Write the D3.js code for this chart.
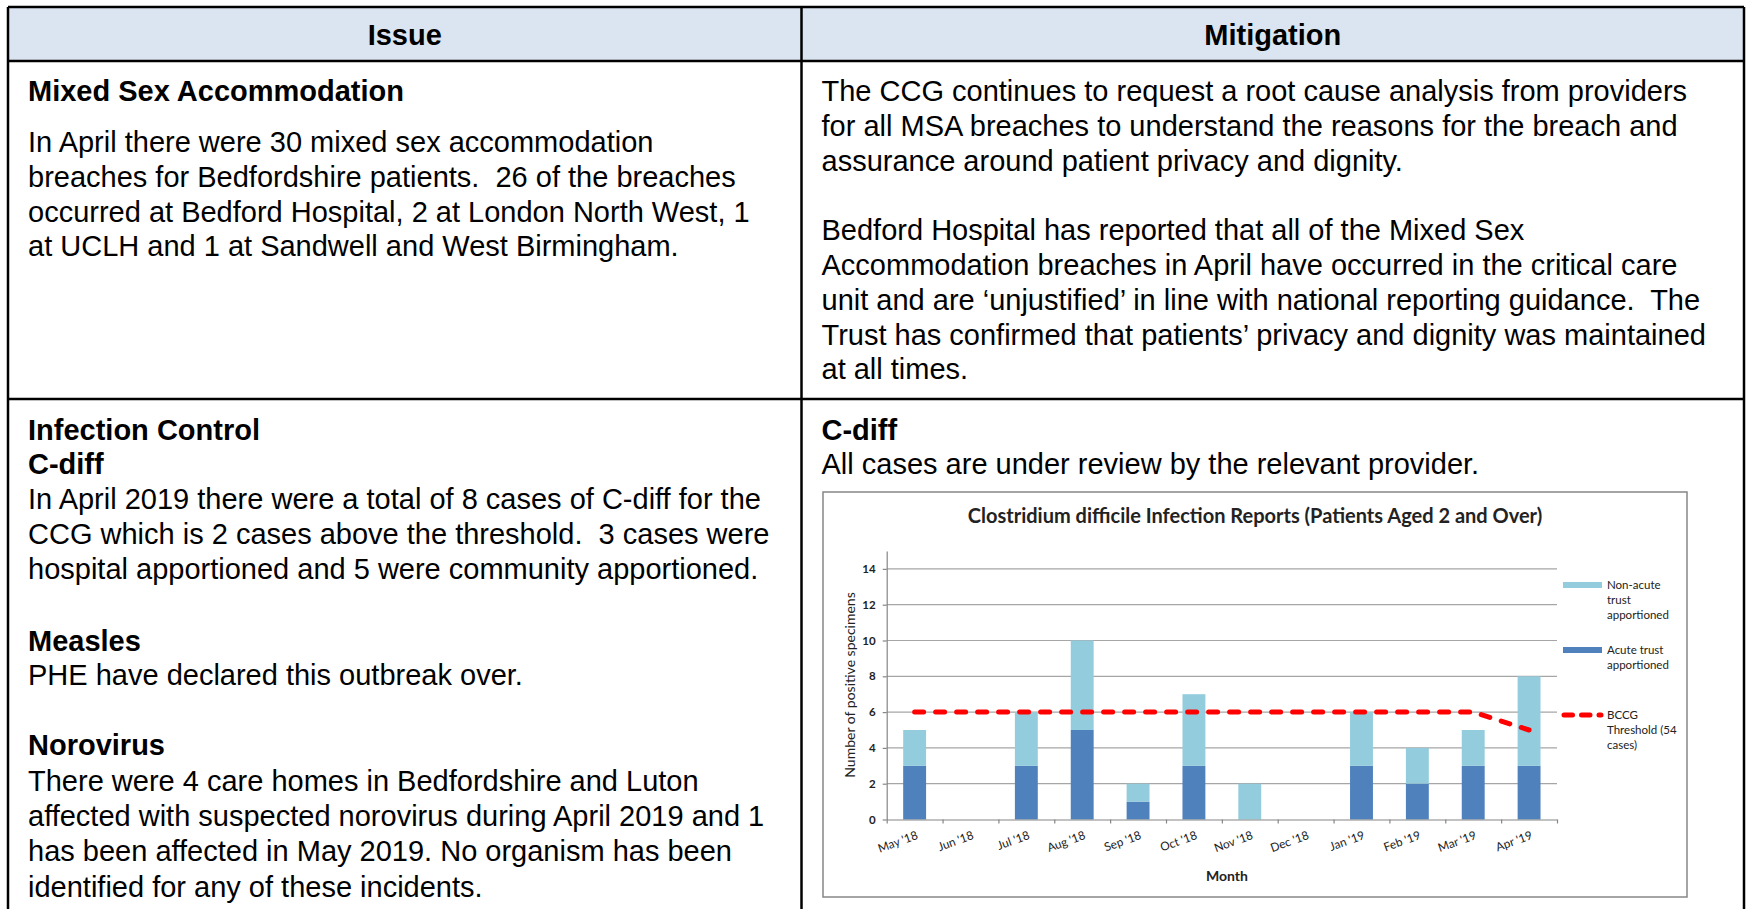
<!DOCTYPE html>
<html>
<head>
<meta charset="utf-8">
<script src="https://cdn.jsdelivr.net/npm/d3@7"></script>
<style>
  body { margin: 0; background: #fff; }
  svg { display: block; }
  .doc { font-family: "Liberation Sans", Arial, sans-serif; font-size: 29px; fill: #000; }
  .chart text { font-family: Lato, "Open Sans", sans-serif; fill: #222; }
</style>
</head>
<body>
<script>
// chart data
const months = ["May '18", "Jun '18", "Jul '18", "Aug '18", "Sep '18", "Oct '18",
                "Nov '18", "Dec '18", "Jan '19", "Feb '19", "Mar '19", "Apr '19"];
const acute    = [3, 0, 3, 5, 1, 3, 0, 0, 3, 2, 3, 3];
const nonAcute = [2, 0, 3, 5, 1, 4, 2, 0, 3, 2, 2, 5];
const threshold = [6, 6, 6, 6, 6, 6, 6, 6, 6, 6, 6, 5];
const yTicks = [0, 2, 4, 6, 8, 10, 12, 14];

// document text, line by line as wrapped in the page
const row1Left = [
  ["b", "Mixed Sex Accommodation", 100.5],
  ["", "In April there were 30 mixed sex accommodation", 152],
  ["", "breaches for Bedfordshire patients.\u00a0 26 of the breaches", 186.8],
  ["", "occurred at Bedford Hospital, 2 at London North West, 1", 221.6],
  ["", "at UCLH and 1 at Sandwell and West Birmingham.", 256.4]
];
const row1Right = [
  "The CCG continues to request a root cause analysis from providers",
  "for all MSA breaches to understand the reasons for the breach and",
  "assurance around patient privacy and dignity.",
  "",
  "Bedford Hospital has reported that all of the Mixed Sex",
  "Accommodation breaches in April have occurred in the critical care",
  "unit and are \u2018unjustified\u2019 in line with national reporting guidance.\u00a0 The",
  "Trust has confirmed that patients\u2019 privacy and dignity was maintained",
  "at all times."
];
const row2Left = [
  ["b", "Infection Control", 439.5],
  ["b", "C-diff", 473.5],
  ["", "In April 2019 there were a total of 8 cases of C-diff for the", 509],
  ["", "CCG which is 2 cases above the threshold.\u00a0 3 cases were", 543.5],
  ["", "hospital apportioned and 5 were community apportioned.", 579],
  ["b", "Measles", 650.5],
  ["", "PHE have declared this outbreak over.", 685],
  ["b", "Norovirus", 755],
  ["", "There were 4 care homes in Bedfordshire and Luton", 791],
  ["", "affected with suspected norovirus during April 2019 and 1", 825.5],
  ["", "has been affected in May 2019. No organism has been", 861],
  ["", "identified for any of these incidents.", 896.5]
];
const row2Right = [
  ["b", "C-diff", 439.5],
  ["", "All cases are under review by the relevant provider.", 473.5]
];

const W = 1748, H = 909;
const svg = d3.select("body").append("svg").attr("width", W).attr("height", H);

// ---- table ----
const tL = 8, tR = 1744, tT = 7, hB = 61, rB = 399, colX = 801.5;
svg.append("rect").attr("x", tL).attr("y", tT).attr("width", tR - tL).attr("height", hB - tT)
  .attr("fill", "#dbe5f1");
const border = svg.append("g").attr("stroke", "#000").attr("stroke-width", 2.5);
[[tL, tT, tR, tT], [tL, hB, tR, hB], [tL, rB, tR, rB],
 [tL, tT, tL, H], [colX, tT, colX, H], [tR, tT, tR, H]].forEach(l => {
  border.append("line").attr("x1", l[0]).attr("y1", l[1]).attr("x2", l[2]).attr("y2", l[3]);
});

const doc = svg.append("g").attr("class", "doc");
doc.append("text").attr("x", (tL + colX) / 2).attr("y", 45).attr("text-anchor", "middle")
  .attr("font-weight", "bold").text("Issue");
doc.append("text").attr("x", (colX + tR) / 2).attr("y", 45).attr("text-anchor", "middle")
  .attr("font-weight", "bold").text("Mitigation");

function lines(arr, x) {
  arr.forEach(d => {
    doc.append("text").attr("x", x).attr("y", d[2])
      .attr("font-weight", d[0] == "b" ? "bold" : null).text(d[1]);
  });
}
lines(row1Left, 28);
lines(row2Left, 28);
lines(row2Right, 821.5);
row1Right.forEach((t, i) => {
  if (t) doc.append("text").attr("x", 821.5).attr("y", 101 + i * 34.8).text(t);
});

// ---- chart ----
const chart = svg.append("g").attr("class", "chart");
chart.append("rect").attr("x", 823).attr("y", 492).attr("width", 864).attr("height", 405)
  .attr("fill", "#fff").attr("stroke", "#878787").attr("stroke-width", 1.5);

const x0 = 886.7, x1 = 1557, yB = 819.5;
const x = d3.scaleBand().domain(months).range([x0, x1]).paddingInner(0.59).paddingOuter(0.295);
const xi = d3.scaleLinear().domain([0, months.length]).range([x0, x1]);
const y = d3.scaleLinear().domain([0, 15]).range([yB, yB - 15 * 17.9]);

// gridlines
chart.append("g").selectAll("line").data(yTicks.slice(1)).join("line")
  .attr("x1", x0).attr("x2", x1).attr("y1", d => y(d)).attr("y2", d => y(d))
  .attr("stroke", "#a6a6a6").attr("stroke-width", 1.2);

// bars
const cx = m => x(m) + x.bandwidth() / 2;
chart.append("g").selectAll("rect").data(months).join("rect")
  .attr("x", m => x(m)).attr("width", x.bandwidth())
  .attr("y", (m, i) => y(acute[i])).attr("height", (m, i) => y(0) - y(acute[i]))
  .attr("fill", "#4f81bd");
chart.append("g").selectAll("rect").data(months).join("rect")
  .attr("x", m => x(m)).attr("width", x.bandwidth())
  .attr("y", (m, i) => y(acute[i] + nonAcute[i]))
  .attr("height", (m, i) => y(acute[i]) - y(acute[i] + nonAcute[i]))
  .attr("fill", "#93cddd");

// axes
const yAxis = chart.append("g").attr("transform", `translate(${x0},0)`)
  .call(d3.axisLeft(y).tickValues(yTicks).tickSize(4).tickSizeOuter(0).tickPadding(7));
yAxis.selectAll("path,line").attr("stroke", "#868686").attr("stroke-width", 1.2);
yAxis.selectAll("text").attr("font-family", "Lato, sans-serif").attr("font-size", 11.5)
  .attr("font-weight", "bold").attr("fill", "#222");

const xAxis = chart.append("g").attr("transform", `translate(0,${yB})`)
  .call(d3.axisBottom(xi).tickValues(d3.range(months.length + 1)).tickFormat("")
    .tickSize(4).tickSizeOuter(0));
xAxis.selectAll("path,line").attr("stroke", "#868686").attr("stroke-width", 1.2);

chart.append("g").selectAll("text").data(months).join("text")
  .attr("transform", m => `translate(${cx(m) + 4},${yB + 19}) rotate(-20)`)
  .attr("text-anchor", "end").attr("font-size", 11.8).text(m => m);

// threshold line
chart.append("path").datum(threshold)
  .attr("d", d3.line().x((d, i) => cx(months[i])).y(d => y(d)))
  .attr("fill", "none").attr("stroke", "#ff0000").attr("stroke-width", 5)
  .attr("stroke-dasharray", "9,12").attr("stroke-linecap", "round");

// titles
chart.append("text").attr("x", 1255).attr("y", 523).attr("text-anchor", "middle")
  .attr("font-size", 20).attr("font-weight", "bold").attr("fill", "#000")
  .text("Clostridium difficile Infection Reports (Patients Aged 2 and Over)");
chart.append("text").attr("x", 1227).attr("y", 881).attr("text-anchor", "middle")
  .attr("font-size", 14).attr("font-weight", "bold").attr("fill", "#000").text("Month");
chart.append("text").attr("transform", "translate(855,685) rotate(-90)")
  .attr("text-anchor", "middle").attr("font-size", 14).text("Number of positive specimens");

// legend
const legend = [
  { kind: "rect", color: "#93cddd", lines: ["Non-acute", "trust", "apportioned"], y: 585 },
  { kind: "rect", color: "#4f81bd", lines: ["Acute trust", "apportioned"], y: 650 },
  { kind: "dash", color: "#ff0000", lines: ["BCCG", "Threshold (54", "cases)"], y: 715 }
];
const lg = chart.append("g");
legend.forEach(d => {
  if (d.kind == "rect") {
    lg.append("rect").attr("x", 1563).attr("y", d.y - 3).attr("width", 39).attr("height", 6)
      .attr("fill", d.color);
  } else {
    lg.append("line").attr("x1", 1564).attr("x2", 1601).attr("y1", d.y).attr("y2", d.y)
      .attr("stroke", d.color).attr("stroke-width", 5).attr("stroke-linecap", "round")
      .attr("stroke-dasharray", "8.5,9");
  }
  d.lines.forEach((t, i) => {
    lg.append("text").attr("x", 1607).attr("y", d.y + 4 + i * 15).attr("font-size", 11.5).text(t);
  });
});
</script>
</body>
</html>
